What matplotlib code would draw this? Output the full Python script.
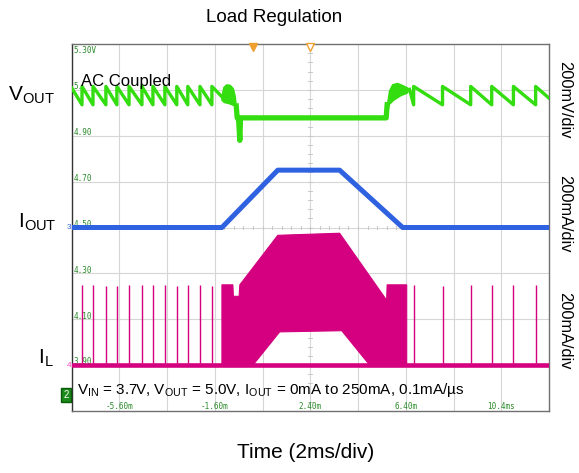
import numpy as np
import matplotlib.pyplot as plt

plt.rcParams['font.family'] = ['Liberation Sans', 'DejaVu Sans']

# time axis in ms, 2 ms/div, 10 div
t_left, t_right = -7.6, 12.4
x_label_times = [-5.6, -1.6, 2.4, 6.4, 10.4]
x_labels = ['-5.60m', '-1.60m', '2.40m', '6.40m', '10.4ms']
y_labels = ['5.30V', '5.', '4.90', '4.70', '4.50', '4.30', '4.10', '3.90']

# VOUT, ac coupled, mV
ripple_hi = 35
ripple_lo = -45
pulses_pre = [-7.16, -6.70, -6.16, -5.70, -5.19, -4.65, -4.19, -3.69, -3.19, -2.73, -2.22, -1.72]
pulses_post = [6.73, 7.94, 9.12, 10.0, 10.91, 11.84]
pre_end = (-1.30, -10)
post_start = (6.56, 22)
post_end = (12.4, -16)
blob1_t = [-1.30, -1.22, -1.10, -0.95, -0.82, -0.74, -0.70, -0.80, -1.00, -1.20, -1.30]
blob1_v = [-10, 30, 42, 40, 25, -10, -50, -48, -40, -35, -25]
load_t = [-0.70, -0.66, -0.60, -0.55, -0.52, 5.58, 5.62]
load_v = [-50, -102, -110, -200, -102, -102, -45]
blob2_t = [5.60, 5.64, 5.72, 5.85, 6.05, 6.25, 6.45, 6.56, 6.45, 6.20, 5.90, 5.70, 5.62]
blob2_v = [-100, -40, 15, 42, 48, 40, 30, 22, 5, -5, -25, -45, -100]

# IOUT, mA
iout_t = [-7.6, -1.30, 1.04, 3.63, 6.27, 12.4]
iout_ma = [0, 0, 250, 250, 0, 0]

# IL, mA
il_pulse_t = pulses_pre + pulses_post
il_pulse_ma = [348, 350, 346, 347, 350, 349, 348, 350, 346, 349, 350, 347,
               350, 346, 349, 350, 348, 350]
il_top_t = [-1.30, -1.30, -0.84, -0.82, -0.58, -0.55, 1.04, 3.63, 5.60, 5.62, 6.44, 6.44]
il_top_ma = [0, 350, 350, 300, 300, 350, 566, 575, 283, 350, 350, 0]
il_bot_t = [4.89, 3.72, 1.12, 0.0]
il_bot_ma = [0, 150, 145, 0]

green = '#33dd0f'
blue = '#2f62e0'
mag = '#d4007f'
lab_green = '#2a8a2a'

def vy(v):
    return 6.9 + np.asarray(v, dtype=float) / 200.0

def ioy(i):
    return 4.0 + np.asarray(i, dtype=float) / 200.0

def ily(i):
    return 1.0 + np.asarray(i, dtype=float) / 200.0

fig = plt.figure(figsize=(5.79, 4.73), dpi=100)
ax = fig.add_axes([71.5 / 579, 1 - 411 / 473, 477.5 / 579, 367 / 473])
ax.set_xlim(t_left, t_right)
ax.set_ylim(0, 8)
ax.set_xticks([])
ax.set_yticks([])
for s in ax.spines.values():
    s.set_color('#707070')
    s.set_linewidth(1.0)
ax.spines['left'].set_color('#333333')

# grid
for k in range(1, 10):
    ax.axvline(t_left + 2 * k, color='#d6d6d6', lw=0.8, zorder=1)
for k in range(1, 8):
    ax.axhline(k, color='#d6d6d6', lw=0.8, zorder=1)
# center ticks
for yy in np.arange(0.2, 8, 0.2):
    ax.plot([2.32, 2.48], [yy, yy], color='#c8c8c8', lw=0.7, zorder=1)
for xx in np.arange(t_left + 0.4, t_right, 0.4):
    ax.plot([xx, xx], [3.96, 4.04], color='#c8c8c8', lw=0.7, zorder=1)

# labels in scope
for k, lab in enumerate(y_labels):
    yy = 7.85 if k == 0 else 7 - (k - 1) + 0.07
    ax.text(-7.53, yy, lab, fontsize=5.5, color=lab_green, family='DejaVu Sans Mono',
            va='center', ha='left', zorder=2)
for xx, lab in zip(x_label_times, x_labels):
    ax.text(xx, 0.1, lab, fontsize=5.5, color=lab_green, family='DejaVu Sans Mono',
            va='center', ha='center', zorder=2)

ax.text(-7.2, 7.09, 'AC Coupled', fontsize=12, va='baseline', ha='left', zorder=5)

# VOUT trace
gt = [t_left]
gv = [ripple_hi - 5]
for p in pulses_pre:
    gt += [p, p]
    gv += [ripple_lo, ripple_hi]
gt.append(pre_end[0])
gv.append(pre_end[1])
ax.plot(gt, vy(gv), color=green, lw=2.4, zorder=4)
ax.fill(blob1_t, vy(blob1_v), color=green, lw=1.0, zorder=4)
ax.plot(load_t, vy(load_v), color=green, lw=3.8, zorder=4)
ax.fill(blob2_t, vy(blob2_v), color=green, lw=1.0, zorder=4)
gt = [post_start[0]]
gv = [post_start[1]]
for p in pulses_post:
    gt += [p, p]
    gv += [ripple_lo, ripple_hi]
gt.append(post_end[0])
gv.append(post_end[1])
ax.plot(gt, vy(gv), color=green, lw=2.4, zorder=4)

# IOUT trace
ax.plot(iout_t, ioy(iout_ma), color=blue, lw=3.6, zorder=4)

# IL trace
ax.plot([t_left, t_right], ily([0, 0]), color=mag, lw=3.3, zorder=4)
ax.vlines(il_pulse_t, ily(0), ily(il_pulse_ma), color=mag, lw=1.0, zorder=4)
ax.fill(il_top_t + il_bot_t, ily(il_top_ma + il_bot_ma), color=mag, lw=0.8, zorder=4)

# trigger markers
ax.plot([0.0], [7.93], marker='v', color='#f0a030', ms=6, clip_on=False, zorder=5)
ax.plot([2.4], [7.93], marker='v', mfc='white', mec='#f0a030', ms=6, clip_on=False, zorder=5)

# channel markers
ax.text(-7.62, 4.0, '3', fontsize=6, color=blue, ha='right', va='center', clip_on=False)
ax.text(-7.62, 1.0, '4', fontsize=6, color='#ff40c0', ha='right', va='center', clip_on=False)
ax.text(-7.95, 0.35, '2', fontsize=7, color='white', ha='left', va='center', clip_on=False,
        bbox=dict(facecolor='#1a8a1a', edgecolor='#0a5a0a', pad=1.5))

# outside text
fig.text(0.474, 0.962, 'Load Regulation', fontsize=13.5, ha='center', va='center')
fig.text(0.527, 0.043, 'Time (2ms/div)', fontsize=15, ha='center', va='center')
fig.text(8 / 579, 1 - 95 / 473, 'V$_{\\mathregular{OUT}}$', fontsize=15, ha='left', va='center')
fig.text(18 / 579, 1 - 222 / 473, 'I$_{\\mathregular{OUT}}$', fontsize=15, ha='left', va='center')
fig.text(38 / 579, 1 - 358 / 473, 'I$_{\\mathregular{L}}$', fontsize=15, ha='left', va='center')
fig.text(565 / 579, 1 - 100 / 473, '200mV/div', fontsize=11.8, rotation=-90, ha='center', va='center')
fig.text(565 / 579, 1 - 214 / 473, '200mA/div', fontsize=11.8, rotation=-90, ha='center', va='center')
fig.text(565 / 579, 1 - 331 / 473, '200mA/div', fontsize=11.8, rotation=-90, ha='center', va='center')
ax.text(-7.35, 0.45, 'V$_{\\mathregular{IN}}$ = 3.7V, V$_{\\mathregular{OUT}}$ = 5.0V, '
        'I$_{\\mathregular{OUT}}$ = 0mA to 250mA, 0.1mA/µs', fontsize=11.0, ha='left',
        va='center', zorder=5)

fig.savefig('out.png', dpi=100)
